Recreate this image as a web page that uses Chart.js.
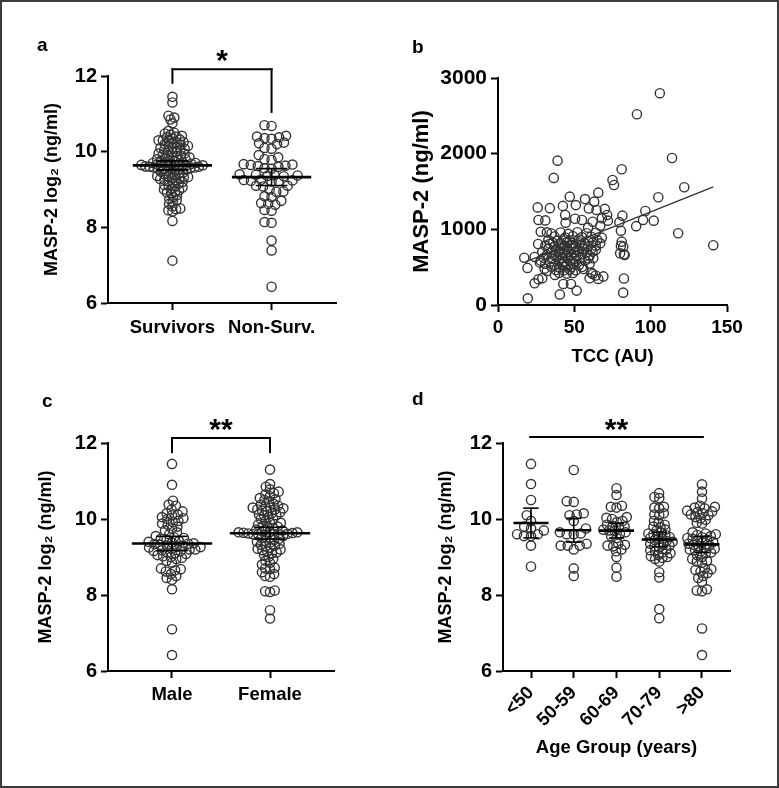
<!DOCTYPE html>
<html lang="en">
<head>
<meta charset="UTF-8">
<title>MASP-2 levels</title>
<script src="https://cdn.jsdelivr.net/npm/chart.js"></script>
<style>
  body { margin: 0; background: #fff; }
  #fig { position: relative; width: 779px; height: 788px; background: #fff; font-family: "Liberation Sans", Arial, sans-serif; }
  #frame { position: absolute; left: 0; top: 0; width: 779px; height: 788px; box-sizing: border-box; border: 2px solid #3c3c3c; pointer-events: none; }
  canvas { position: absolute; }
  .tag { position: absolute; font-size: 19px; font-weight: bold; color: #000; line-height: 1; }
</style>
</head>
<body>
<div id="fig">
  <canvas id="chartA" width="370" height="340" style="left:10px;top:20px"></canvas>
  <canvas id="chartB" width="385" height="355" style="left:390px;top:20px"></canvas>
  <canvas id="chartC" width="370" height="330" style="left:10px;top:380px"></canvas>
  <canvas id="chartD" width="385" height="400" style="left:390px;top:380px"></canvas>
  <div class="tag" style="left:37px;top:35px">a</div>
  <div class="tag" style="left:412px;top:37px">b</div>
  <div class="tag" style="left:42px;top:391px">c</div>
  <div class="tag" style="left:412px;top:389px">d</div>
  <div id="frame"></div>
</div>
<script>
  const FONT = '"Liberation Sans", Arial, sans-serif';

  // panel a: survival
  const outcomeLabels = ['Survivors', 'Non-Surv.'];
  const survivors = [11.45, 11.3, 10.95, 10.9, 10.85, 10.75, 10.55, 10.5, 10.48, 10.45, 10.42, 10.4, 10.38, 10.35,
    10.32, 10.3, 10.3, 10.28, 10.25, 10.25, 10.22, 10.2, 10.18, 10.15, 10.15, 10.12, 10.1, 10.1, 10.08, 10.05, 10.05,
    10.02, 10.0, 9.98, 9.95, 9.95, 9.92, 9.9, 9.9, 9.88, 9.85, 9.85, 9.82, 9.8, 9.8, 9.78, 9.76, 9.75, 9.75, 9.72,
    9.7, 9.7, 9.7, 9.68, 9.68, 9.66, 9.66, 9.65, 9.64, 9.64, 9.63, 9.62, 9.62, 9.61, 9.6, 9.6, 9.6, 9.58, 9.58, 9.57,
    9.56, 9.55, 9.55, 9.54, 9.52, 9.5, 9.48, 9.47, 9.45, 9.44, 9.42, 9.4, 9.38, 9.36, 9.35, 9.33, 9.32, 9.3, 9.3,
    9.28, 9.26, 9.25, 9.22, 9.2, 9.18, 9.15, 9.12, 9.1, 9.08, 9.05, 9.02, 9.0, 8.98, 8.95, 8.92, 8.9, 8.85, 8.8,
    8.75, 8.72, 8.68, 8.62, 8.55, 8.5, 8.48, 8.45, 8.42, 8.17, 7.12];
  const nonSurvivors = [10.7, 10.68, 10.42, 10.4, 10.38, 10.36, 10.34, 10.24, 10.22, 10.2, 10.1, 10.08, 9.91, 9.85,
    9.8, 9.78, 9.67, 9.66, 9.65, 9.63, 9.62, 9.6, 9.56, 9.55, 9.4, 9.39, 9.38, 9.37, 9.36, 9.35, 9.26, 9.25, 9.24,
    9.23, 9.22, 9.21, 9.1, 9.1, 9.08, 9.0, 8.95, 8.94, 8.82, 8.8, 8.7, 8.64, 8.62, 8.6, 8.46, 8.44, 8.14, 8.12,
    7.65, 7.39, 6.43];

  // panel b: TCC vs MASP-2
  const tccAU = [106, 91, 114, 39, 81, 36.5, 75, 76, 122, 65.7, 47, 105, 57, 63, 26, 34, 42.5, 51, 59.5, 64.5, 70,
    71.5, 81.5, 96.5, 26.5, 31, 44, 44.3, 50.5, 55, 62, 68, 72, 79.5, 95, 102, 67, 90.5, 59, 28, 32, 80.5, 118,
    26.3, 34, 81, 141, 80.5, 82, 80, 82.5, 83, 17.2, 19.3, 24, 27.5, 24, 26.5, 29, 19.5, 40.5, 42.8, 47.8, 51.5,
    60, 65.7, 69, 82.5, 82, 62.4, 64, 56, 37.3, 30.5, 32, 61, 64, 62,
    35, 41, 46, 52, 58, 64, 37, 44, 49, 55, 61, 68, 33, 39, 43, 47, 53, 59, 65, 36, 41, 45, 49, 54, 57, 62, 67,
    31, 37, 42, 44, 48, 51, 55, 59, 64, 33, 38, 41, 45, 49, 52, 56, 61, 29, 35, 40, 43, 46, 50, 53, 58, 62,
    32, 37, 41, 44, 48, 51, 55, 60, 30, 35, 39, 42, 46, 50, 54, 59, 28, 34, 40, 43, 47, 51, 57,
    31, 37, 42, 45, 49, 53, 60, 35, 40, 44, 48, 55, 38, 43, 47, 51, 40, 45, 49];
  const masp2 = [2799, 2521, 1943, 1908, 1794, 1680, 1652, 1586, 1556, 1485, 1432, 1424, 1400, 1366, 1290, 1280,
    1310, 1320, 1275, 1256, 1270, 1190, 1181, 1243, 1124, 1118, 1190, 1088, 1140, 1124, 1100, 1146, 1115, 1095,
    1124, 1115, 1048, 1042, 1022, 969, 960, 982, 948, 806, 810, 837, 790, 784, 771, 683, 670, 660, 625, 490, 635,
    560, 287, 340, 355, 88, 140, 278, 278, 190, 353, 344, 378, 350, 163, 617, 727, 475, 397, 480, 450, 430, 390, 410,
    945, 958, 940, 962, 948, 955, 905, 892, 910, 898, 902, 890, 862, 850, 870, 855, 866, 848, 860,
    822, 812, 830, 818, 826, 810, 824, 815, 785, 772, 790, 776, 782, 770, 788, 775, 784,
    742, 735, 750, 738, 746, 732, 744, 738, 702, 695, 708, 690, 704, 698, 710, 694, 706,
    662, 655, 668, 650, 664, 658, 670, 652, 624, 612, 630, 618, 626, 610, 622, 615,
    585, 575, 590, 572, 582, 578, 588, 545, 532, 548, 538, 542, 530, 545,
    505, 495, 510, 498, 502, 462, 455, 468, 458, 425, 415, 422];
  const fitTCC = [18, 141];
  const fitMASP2 = [570, 1562];

  // panel c: sex
  const sexLabels = ['Male', 'Female'];
  const male = [11.45, 10.9, 10.48, 10.38, 10.35, 10.25, 10.2, 10.15, 10.12, 10.1, 10.05, 10.02, 10.0, 9.95, 9.92,
    9.88, 9.85, 9.8, 9.75, 9.7, 9.65, 9.6, 9.55, 9.52, 9.5, 9.48, 9.45, 9.42, 9.4, 9.38, 9.36, 9.35, 9.34, 9.32,
    9.3, 9.3, 9.28, 9.26, 9.25, 9.22, 9.2, 9.2, 9.18, 9.16, 9.15, 9.12, 9.1, 9.08, 9.05, 9.02, 9.0, 8.98, 8.95,
    8.9, 8.85, 8.7, 8.68, 8.65, 8.62, 8.55, 8.5, 8.45, 8.4, 8.15, 7.1, 6.42];
  const female = [11.3, 10.92, 10.85, 10.78, 10.72, 10.68, 10.65, 10.6, 10.55, 10.52, 10.5, 10.45, 10.4, 10.38,
    10.35, 10.33, 10.3, 10.3, 10.28, 10.25, 10.25, 10.22, 10.2, 10.18, 10.15, 10.12, 10.1, 10.1, 10.05, 10.0, 10.0,
    9.95, 9.9, 9.9, 9.85, 9.82, 9.8, 9.78, 9.75, 9.72, 9.7, 9.68, 9.66, 9.65, 9.65, 9.64, 9.63, 9.62, 9.62, 9.61,
    9.6, 9.6, 9.6, 9.58, 9.55, 9.52, 9.5, 9.48, 9.45, 9.42, 9.4, 9.38, 9.35, 9.32, 9.3, 9.28, 9.25, 9.22, 9.2,
    9.18, 9.15, 9.12, 9.1, 9.05, 9.0, 8.95, 8.9, 8.85, 8.8, 8.72, 8.7, 8.68, 8.6, 8.55, 8.5, 8.48, 8.12, 8.1,
    8.08, 7.6, 7.38];

  // panel d: age groups
  const ageLabels = ['<50', '50-59', '60-69', '70-79', '>80'];
  const ageUnder50 = [11.45, 10.92, 10.5, 10.1, 9.95, 9.8, 9.75, 9.7, 9.6, 9.6, 9.55, 9.55, 9.3, 8.75];
  const age50to59 = [11.29, 10.47, 10.45, 10.15, 10.12, 10.1, 9.95, 9.75, 9.65, 9.62, 9.6, 9.6, 9.35, 9.3, 9.3,
    9.2, 9.3, 8.7, 8.5];
  const age60to69 = [10.81, 10.63, 10.35, 10.32, 10.3, 10.05, 10.03, 10.0, 9.95, 9.92, 9.85, 9.82, 9.8, 9.78,
    9.72, 9.7, 9.68, 9.65, 9.62, 9.55, 9.5, 9.35, 9.32, 9.3, 9.28, 9.2, 9.15, 9.0, 8.72, 8.48];
  const age70to79 = [10.68, 10.58, 10.55, 10.32, 10.3, 10.28, 10.15, 10.12, 10.1, 9.95, 9.9, 9.85, 9.8, 9.78,
    9.72, 9.7, 9.65, 9.62, 9.6, 9.58, 9.55, 9.52, 9.5, 9.48, 9.45, 9.42, 9.4, 9.38, 9.35, 9.32, 9.3, 9.28, 9.25,
    9.2, 9.18, 9.15, 9.12, 9.1, 9.05, 9.02, 9.0, 8.98, 8.95, 8.88, 8.6, 8.46, 7.63, 7.39];
  const age80plus = [10.91, 10.72, 10.54, 10.35, 10.32, 10.3, 10.28, 10.22, 10.2, 10.18, 10.15, 10.12, 10.1,
    10.05, 10.02, 9.98, 9.9, 9.88, 9.65, 9.62, 9.6, 9.58, 9.55, 9.52, 9.5, 9.48, 9.45, 9.42, 9.4, 9.38, 9.35,
    9.32, 9.3, 9.28, 9.25, 9.22, 9.2, 9.18, 9.15, 9.12, 9.1, 9.05, 9.0, 8.95, 8.9, 8.88, 8.85, 8.7, 8.68, 8.66,
    8.62, 8.58, 8.5, 8.45, 8.35, 8.15, 8.12, 8.1, 7.12, 6.42];

  const log2Ticks = [6, 8, 10, 12];

  // helpers
  function mean(a) { return a.reduce((s, v) => s + v, 0) / a.length; }
  function ci95(a) {
    const m = mean(a);
    const sd = Math.sqrt(a.reduce((s, v) => s + (v - m) * (v - m), 0) / (a.length - 1));
    const t = 1.96 + 2.5 / (a.length - 1);
    return t * sd / Math.sqrt(a.length);
  }

  // greedy beeswarm, offsets in px; shrinks spacing until the swarm fits maxHalf
  function placeSwarm(values, pxY, d) {
    const order = values.map((v, i) => i).sort((a, b) => values[a] - values[b]);
    const placed = [];
    const off = new Array(values.length);
    order.forEach(i => {
      const yy = values[i] * pxY;
      const blocks = [];
      placed.forEach(p => {
        const dy = Math.abs(p.y - yy);
        if (dy < d) {
          const w = Math.sqrt(d * d - dy * dy);
          blocks.push([p.x - w, p.x + w]);
        }
      });
      const cands = [0];
      blocks.forEach(b => cands.push(b[0], b[1]));
      cands.sort((a, b) => Math.abs(a) - Math.abs(b));
      let xx = 0;
      for (const c of cands) {
        if (blocks.every(b => c <= b[0] + 1e-6 || c >= b[1] - 1e-6)) { xx = c; break; }
      }
      placed.push({ x: xx, y: yy });
      off[i] = xx;
    });
    return off;
  }
  function swarm(values, pxY, diam, maxHalf) {
    let d = diam, off = placeSwarm(values, pxY, d);
    while (Math.max(...off.map(Math.abs)) > maxHalf && d > 2) {
      d *= 0.93;
      off = placeSwarm(values, pxY, d);
    }
    return off;
  }

  function seg(ctx, x1, y1, x2, y2, w) {
    ctx.lineWidth = w;
    ctx.beginPath();
    ctx.moveTo(x1, y1);
    ctx.lineTo(x2, y2);
    ctx.stroke();
  }

  // mean line + 95% CI, plus significance bracket
  function summaryPlugin(groups, opt) {
    return {
      id: 'summary',
      afterDatasetsDraw(chart) {
        const { ctx, scales: { x, y } } = chart;
        ctx.save();
        ctx.strokeStyle = '#000';
        groups.forEach((vals, i) => {
          const m = mean(vals), e = ci95(vals);
          const ym = y.getPixelForValue(m);
          seg(ctx, x.getPixelForValue(i - opt.meanHalf), ym, x.getPixelForValue(i + opt.meanHalf), ym, 2.6);
          const xc = x.getPixelForValue(i);
          seg(ctx, xc, y.getPixelForValue(m - e), xc, y.getPixelForValue(m + e), 1.6);
          [m - e, m + e].forEach(v => {
            const yv = y.getPixelForValue(v);
            seg(ctx, x.getPixelForValue(i - opt.capHalf), yv, x.getPixelForValue(i + opt.capHalf), yv, 1.6);
          });
        });
        const br = opt.bracket;
        const x1 = x.getPixelForValue(br.from), x2 = x.getPixelForValue(br.to), yt = y.getPixelForValue(br.top);
        ctx.lineCap = 'square';
        seg(ctx, x1, yt, x2, yt, 2);
        if (br.legs) {
          seg(ctx, x1, yt, x1, y.getPixelForValue(br.legs[0]), 2);
          seg(ctx, x2, yt, x2, y.getPixelForValue(br.legs[1]), 2);
        }
        ctx.fillStyle = '#000';
        ctx.font = 'bold 30px ' + FONT;
        ctx.textAlign = 'center';
        ctx.textBaseline = 'alphabetic';
        ctx.fillText(br.star, x.getPixelForValue((br.from + br.to) / 2), y.getPixelForValue(br.starY) + 17);
        ctx.restore();
      }
    };
  }

  function tickFont(size) { return { family: FONT, size: size, weight: 'bold' }; }
  function axisBase() {
    return {
      border: { display: true, color: '#000', width: 2 },
      grid: { drawOnChartArea: false, drawTicks: true, tickLength: 7, tickColor: '#000', tickWidth: 2 }
    };
  }

  function log2Axis(width, titlePad) {
    return Object.assign(axisBase(), {
      type: 'linear', min: 6, max: 12,
      afterBuildTicks: s => { s.ticks = log2Ticks.map(v => ({ value: v })); },
      ticks: { color: '#000', font: tickFont(20), padding: 4 },
      title: { display: true, text: 'MASP-2 log₂ (ng/ml)', color: '#000', font: tickFont(18), padding: { top: titlePad, bottom: 0 } },
      afterFit: s => { s.width = width; }
    });
  }

  function categoryAxis(labels, min, max, height, pad, rotate) {
    return Object.assign(axisBase(), {
      type: 'linear', min: min, max: max,
      afterBuildTicks: s => { s.ticks = labels.map((l, i) => ({ value: i })); },
      ticks: {
        color: '#000', font: tickFont(18.5), padding: pad, autoSkip: false,
        minRotation: rotate, maxRotation: rotate,
        callback: v => labels[v]
      },
      afterFit: s => { s.height = height; }
    });
  }

  const pointStyle = {
    pointRadius: 4.6, pointBorderWidth: 1.4, borderColor: '#333',
    pointBackgroundColor: 'rgba(255,255,255,0)', pointBorderColor: '#333', clip: false
  };

  function dotPlot(id, labels, groups, cfg) {
    const chart = new Chart(document.getElementById(id), {
      type: 'scatter',
      data: {
        datasets: groups.map((vals, i) => Object.assign({ data: vals.map(v => ({ x: i, y: v })) }, pointStyle))
      },
      options: {
        responsive: false, animation: false, devicePixelRatio: 1,
        layout: { padding: cfg.padding },
        plugins: { legend: { display: false }, tooltip: { enabled: false } },
        scales: { x: cfg.x, y: cfg.y }
      },
      plugins: [summaryPlugin(groups, cfg.summary)]
    });
    const { x, y } = chart.scales;
    const pxX = Math.abs(x.getPixelForValue(1) - x.getPixelForValue(0));
    const pxY = Math.abs(y.getPixelForValue(1) - y.getPixelForValue(0));
    groups.forEach((vals, i) => {
      const off = swarm(vals, pxY, 9.5, cfg.maxHalf);
      chart.data.datasets[i].data = vals.map((v, k) => ({ x: i + off[k] / pxX, y: v }));
    });
    chart.update('none');
    return chart;
  }

  // a
  dotPlot('chartA', outcomeLabels, [survivors, nonSurvivors], {
    padding: { left: 0, top: 56, right: 44, bottom: 0 },
    x: categoryAxis(outcomeLabels, -0.65, 1.65, 57, 7, 0),
    y: log2Axis(98, 31),
    maxHalf: 32,
    summary: { meanHalf: 0.4, capHalf: 0.16, bracket: { from: 0, to: 1, top: 12.18, legs: [11.82, 11.05], star: '*', starY: 12.6 } }
  });

  // c
  dotPlot('chartC', sexLabels, [male, female], {
    padding: { left: 0, top: 63, right: 46, bottom: 0 },
    x: categoryAxis(sexLabels, -0.653, 1.653, 39, 6, 0),
    y: log2Axis(98, 25),
    maxHalf: 32,
    summary: { meanHalf: 0.41, capHalf: 0.16, bracket: { from: 0, to: 1, top: 12.13, legs: [11.76, 11.76], star: '**', starY: 12.55 } }
  });

  // d
  const dX = categoryAxis(ageLabels, -0.655, 4.655, 109, 4, 45);
  dX.title = { display: true, text: 'Age Group (years)', color: '#000', font: tickFont(18.5), padding: { top: 0, bottom: 21 } };
  dotPlot('chartD', ageLabels, [ageUnder50, age50to59, age60to69, age70to79, age80plus], {
    padding: { left: 0, top: 63, right: 45, bottom: 0 },
    x: dX,
    y: log2Axis(113, 45),
    maxHalf: 15,
    summary: { meanHalf: 0.41, capHalf: 0.18, bracket: { from: -0.02, to: 4.02, top: 12.16, legs: null, star: '**', starY: 12.55 } }
  });

  // b
  new Chart(document.getElementById('chartB'), {
    type: 'scatter',
    data: {
      datasets: [
        Object.assign({ data: tccAU.map((v, i) => ({ x: v, y: masp2[i] })) }, pointStyle),
        {
          type: 'line', data: fitTCC.map((v, i) => ({ x: v, y: fitMASP2[i] })),
          borderColor: '#333', borderWidth: 1.3, pointRadius: 0, fill: false
        }
      ]
    },
    options: {
      responsive: false, animation: false, devicePixelRatio: 1,
      layout: { padding: { left: 0, top: 58, right: 48, bottom: 0 } },
      plugins: { legend: { display: false }, tooltip: { enabled: false } },
      scales: {
        x: Object.assign(axisBase(), {
          type: 'linear', min: 0, max: 150,
          ticks: { stepSize: 50, color: '#000', font: tickFont(19), padding: 4, callback: v => String(v) },
          title: { display: true, text: 'TCC (AU)', color: '#000', font: tickFont(18.5), padding: { top: 0, bottom: 7 } },
          afterFit: s => { s.height = 70; }
        }),
        y: Object.assign(axisBase(), {
          type: 'linear', min: 0, max: 3000,
          ticks: { stepSize: 1000, color: '#000', font: tickFont(21), padding: 4, callback: v => String(v) },
          title: { display: true, text: 'MASP-2 (ng/ml)', color: '#000', font: tickFont(22), padding: { top: 19, bottom: 0 } },
          afterFit: s => { s.width = 108; }
        })
      }
    }
  });
</script>
</body>
</html>
